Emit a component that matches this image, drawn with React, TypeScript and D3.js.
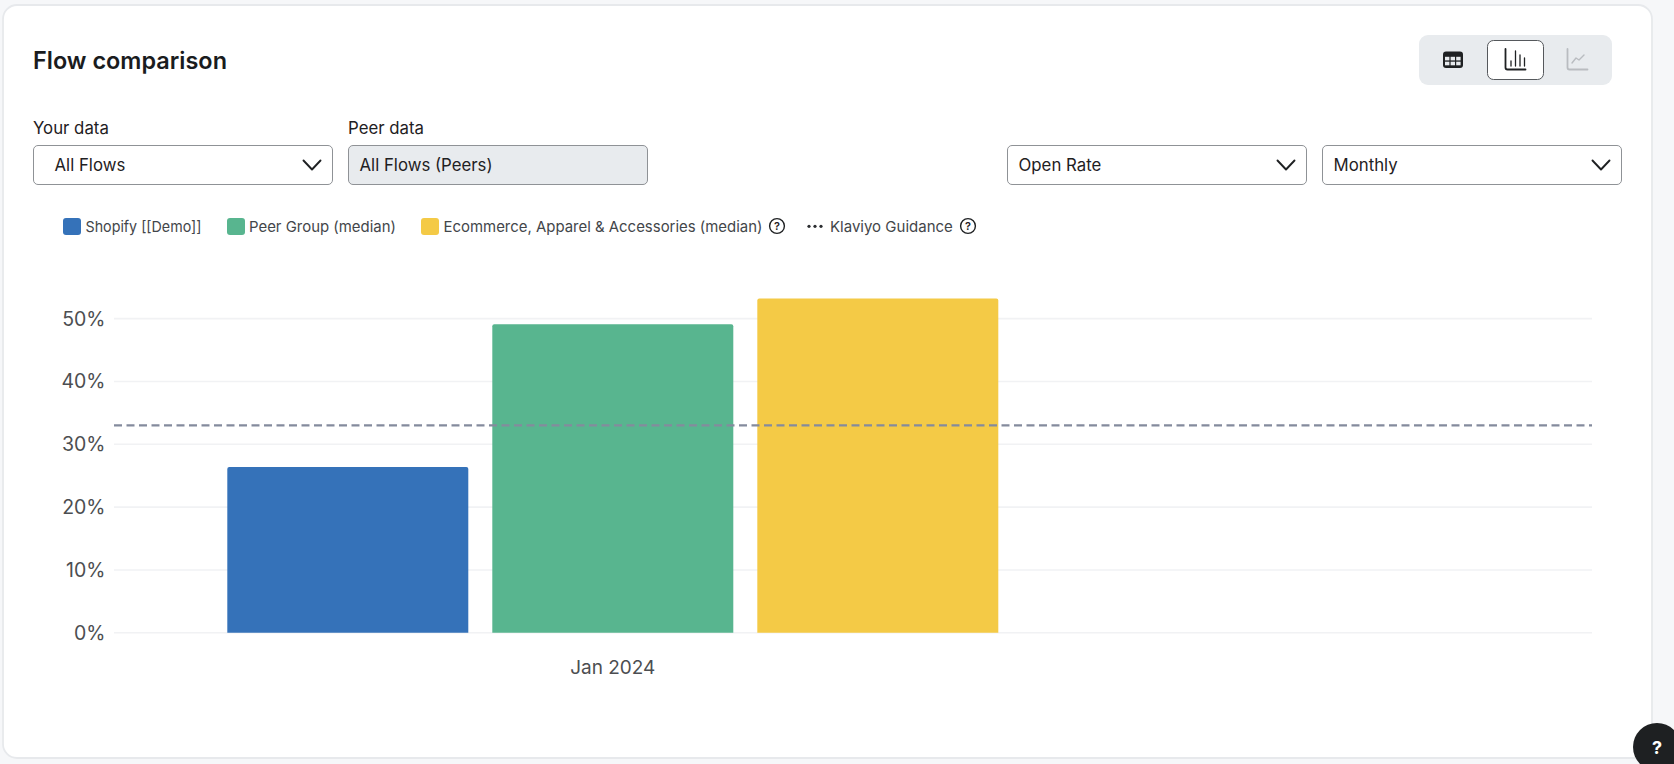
import React from "react";
import * as d3 from "d3";

const months = ["Jan 2024"];
const seriesNames = ["Shopify [[Demo]]", "Peer Group (median)", "Ecommerce, Apparel & Accessories (median)"];
const seriesValues = [26.4, 49.1, 53.2];
const seriesColors = ["#3572b9", "#58b58f", "#f4ca46"];
const guidanceName = "Klaviyo Guidance";
const guidanceValue = 33;
const yTicks = [0, 10, 20, 30, 40, 50];

const FONT = "Inter, 'Noto Sans', sans-serif";
const TEXT = "#1f2123";

const W = 1674, H = 764;
const y = d3.scaleLinear().domain([0, 50]).range([632.8, 318.6]);
const xOuter = d3.scaleBand<string>().domain(months).range([227.3, 998.3]);
const xInner = d3.scaleBand<string>().domain(seriesNames).range([0, xOuter.bandwidth()]).paddingInner(0.0906);

function Chevron({ cx, cy }: { cx: number; cy: number }) {
  return <path d={`M${cx - 8.5} ${cy - 4.5}L${cx} ${cy + 4.5}L${cx + 8.5} ${cy - 4.5}`} fill="none" stroke="#1f2123" strokeWidth={1.9} strokeLinecap="round" strokeLinejoin="round" />;
}

function Select({ x, w, label, disabled, tx }: { x: number; w: number; label: string; disabled?: boolean; tx?: number }) {
  return (
    <g>
      <rect x={x + 0.5} y={145.5} width={w - 1} height={39} rx={4.5} fill={disabled ? "#e8ebee" : "#fff"} stroke="#8f9296" strokeWidth={1} />
      <text x={tx ?? x + 11.5} y={171} fontSize={16.8} fill={TEXT} fontFamily={FONT}>{label}</text>
      {!disabled && <Chevron cx={x + w - 21} cy={165} />}
    </g>
  );
}

function Help({ cx, cy }: { cx: number; cy: number }) {
  return (
    <g>
      <circle cx={cx} cy={cy} r={7.4} fill="none" stroke="#1f2123" strokeWidth={1.4} />
      <text x={cx} y={cy + 4} textAnchor="middle" fontSize={11} fontWeight={600} fill="#1f2123" fontFamily={FONT}>?</text>
    </g>
  );
}

export default function App() {
  const swatchX = [63, 227, 421];
  const labelX = [85.5, 249, 443.5];
  const labelW = [116, 147, 319];
  return (
    <svg width={W} height={H} viewBox={`0 0 ${W} ${H}`} style={{ position: "absolute", left: 0, top: 0, display: "block" }}>
      <rect width={W} height={H} fill="#f6f7f9" />
      <rect x={3} y={5} width={1649} height={753} rx={14} fill="#fff" stroke="#e7e9ec" strokeWidth={1.8} />

      <text x={33} y={69} fontSize={24} fontWeight={600} fill="#1a1c1e" fontFamily={FONT} textLength={194} lengthAdjust="spacingAndGlyphs">Flow comparison</text>

      <text x={33} y={134} fontSize={16.8} fill={TEXT} fontFamily={FONT}>Your data</text>
      <text x={348} y={134} fontSize={16.8} fill={TEXT} fontFamily={FONT}>Peer data</text>
      <Select x={33} w={300} label="All Flows" tx={54.5} />
      <Select x={348} w={300} label="All Flows (Peers)" disabled />
      <Select x={1007} w={300} label="Open Rate" />
      <Select x={1322} w={300} label="Monthly" />

      {/* view toggle */}
      <rect x={1419} y={35} width={193} height={50} rx={9} fill="#e8ebee" />
      <rect x={1487.5} y={40.5} width={56} height={39} rx={6} fill="#fff" stroke="#55585c" strokeWidth={1} />
      <g>
        <rect x={1443} y={51.5} width={20} height={16.5} rx={3} fill="#1f2123" />
        {[0, 1, 2].map(c => [0, 1].map(r => (
          <rect key={`${c}-${r}`} x={1445 + c * 5.6} y={56.8 + r * 4.9} width={4.4} height={3.6} fill="#e8ebee" />
        )))}
      </g>
      <g fill="none" stroke="#1f2123" strokeLinecap="round">
        <path d="M1505.5 49V67.5Q1505.5 69.5 1507.5 69.5H1525.5" strokeWidth={1.8} />
        <path d="M1511 66V61M1515.5 66V51M1520 66V55M1524.5 66V58" strokeWidth={1.3} />
      </g>
      <g fill="none" stroke="#b9bcc0" strokeLinecap="round" strokeLinejoin="round">
        <path d="M1567.5 49V67.5Q1567.5 69.5 1569.5 69.5H1587.5" strokeWidth={1.8} />
        <path d="M1572 63L1576 58L1579 60L1584 55" strokeWidth={1.4} />
      </g>

      {/* legend */}
      {seriesNames.map((n, i) => (
        <g key={n}>
          <rect x={swatchX[i]} y={218} width={18} height={17} rx={3} fill={seriesColors[i]} />
          <text x={labelX[i]} y={231.5} fontSize={15} fill="#43464a" fontFamily={FONT} textLength={labelW[i]} lengthAdjust="spacingAndGlyphs">{n}</text>
        </g>
      ))}
      <Help cx={777} cy={226} />
      <g fill="#2b2d30">
        {[0, 1, 2].map(i => <circle key={i} cx={809 + i * 6} cy={226.3} r={1.6} />)}
      </g>
      <text x={830} y={231.5} fontSize={15} fill="#43464a" fontFamily={FONT}>{guidanceName}</text>
      <Help cx={968} cy={226} />

      {/* grid + axis */}
      {yTicks.map(t => (
        <g key={t}>
          <line x1={114} x2={1592} y1={y(t)} y2={y(t)} stroke="#f1f2f4" strokeWidth={1.6} />
          <text x={105.5} y={y(t) + 7} textAnchor="end" fontSize={19.5} fill="#4c4e51" fontFamily={FONT}>{t}%</text>
        </g>
      ))}

      {/* bars */}
      {months.map(m => (
        <g key={m} transform={`translate(${xOuter(m)},0)`}>
          {seriesNames.map((n, i) => {
            const bx = xInner(n)!, bw = xInner.bandwidth(), top = y(seriesValues[i]), base = y(0);
            return <path key={n} fill={seriesColors[i]} d={`M${bx} ${base}V${top + 2}Q${bx} ${top} ${bx + 2} ${top}H${bx + bw - 2}Q${bx + bw} ${top} ${bx + bw} ${top + 2}V${base}Z`} />;
          })}
          <text x={xOuter.bandwidth() / 2} y={673.5} textAnchor="middle" fontSize={19} fill="#4c4e51" fontFamily={FONT}>{m}</text>
        </g>
      ))}

      {/* guidance */}
      <line x1={114} x2={1592} y1={y(guidanceValue)} y2={y(guidanceValue)} stroke="#848b9d" strokeWidth={2.2} strokeDasharray="8 4.5" />

      {/* help bubble */}
      <circle cx={1657} cy={747} r={24} fill="#1e2022" />
      <text x={1657} y={754} textAnchor="middle" fontSize={18} fontWeight={700} fill="#fff" fontFamily={FONT}>?</text>
    </svg>
  );
}
